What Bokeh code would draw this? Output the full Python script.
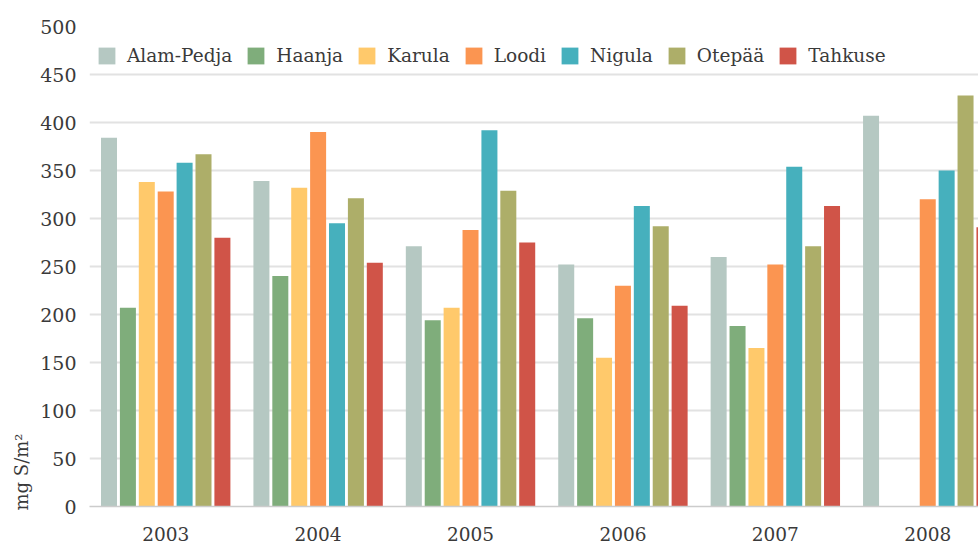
from bokeh.plotting import figure
from bokeh.models import ColumnDataSource, Range1d, FixedTicker, Legend, LegendItem, Title
from bokeh.transform import dodge
from bokeh.embed import file_html
from bokeh.resources import INLINE

nan = float("nan")

years = ["2003", "2004", "2005", "2006", "2007", "2008"]
series = ["Alam-Pedja", "Haanja", "Karula", "Loodi", "Nigula", "Otepää", "Tahkuse"]
colors = ["#b5c8c2", "#7fad7b", "#ffc96b", "#fb9551", "#46b0bd", "#adae69", "#d05448"]

alam_pedja = [384, 339, 271, 252, 260, 407]
haanja = [207, 240, 194, 196, 188, nan]
karula = [338, 332, 207, 155, 165, nan]
loodi = [328, 390, 288, 230, 252, 320]
nigula = [358, 295, 392, 313, 354, 350]
otepaa = [367, 321, 329, 292, 271, 428]
tahkuse = [280, 254, 275, 209, 313, 291]

values = [alam_pedja, haanja, karula, loodi, nigula, otepaa, tahkuse]

FONT = "DejaVu Serif"
TXT = "#3a3a3a"

xs = [i + 0.5 for i in range(len(years))]
data = {"x": xs}
for name, vals in zip(series, values):
    data[name] = vals
src = ColumnDataSource(data)

p = figure(frame_width=889, frame_height=480,
           x_range=Range1d(0, 5.833), y_range=Range1d(0, 500),
           output_backend="svg", toolbar_location=None,
           min_border_left=89, min_border_right=0, min_border_top=26, min_border_bottom=30)
p.outline_line_color = None
p.background_fill_color = "white"

pitch = 0.124
width = 0.105
items = []
for k, (name, col) in enumerate(zip(series, colors)):
    r = p.vbar(x=dodge("x", (k - 3) * pitch, range=p.x_range), top=name, width=width,
               source=src, fill_color=col, line_color=None)
    items.append(LegendItem(label=name, renderers=[r]))

legend = Legend(items=items, orientation="horizontal", location=(7, 440),
                padding=0, margin=0, spacing=13, label_standoff=10,
                glyph_width=21, glyph_height=21,
                label_text_font=FONT, label_text_font_size="18.5px", label_text_color=TXT,
                background_fill_alpha=0, border_line_color=None)
p.add_layout(legend, "center")

# axes
p.xaxis.ticker = FixedTicker(ticks=xs)
p.xaxis.major_label_overrides = {x: y for x, y in zip(xs, years)}
p.xaxis.major_tick_line_color = None
p.xaxis.minor_tick_line_color = None
p.xaxis.axis_line_color = "#cccccc"
p.xaxis.axis_line_width = 1.5
p.xaxis.major_label_standoff = 14
p.xaxis.major_label_text_font = FONT
p.xaxis.major_label_text_font_size = "18.5px"
p.xaxis.major_label_text_color = TXT

p.yaxis.ticker = FixedTicker(ticks=list(range(0, 501, 50)))
p.yaxis.major_tick_line_color = None
p.yaxis.minor_tick_line_color = None
p.yaxis.axis_line_color = None
p.yaxis.major_label_standoff = 7
p.yaxis.major_label_text_font = FONT
p.yaxis.major_label_text_font_size = "19px"
p.yaxis.major_label_text_color = TXT

p.xgrid.grid_line_color = None
p.ygrid.grid_line_color = "#e2e2e2"
p.ygrid.grid_line_width = 2

ytitle = Title(text="mg S/m²", align="left", offset=-4,
               text_font=FONT, text_font_size="18px", text_color=TXT,
               text_font_style="normal", standoff=11)
p.add_layout(ytitle, "left")

open("out.html", "w").write(file_html(p, INLINE))
